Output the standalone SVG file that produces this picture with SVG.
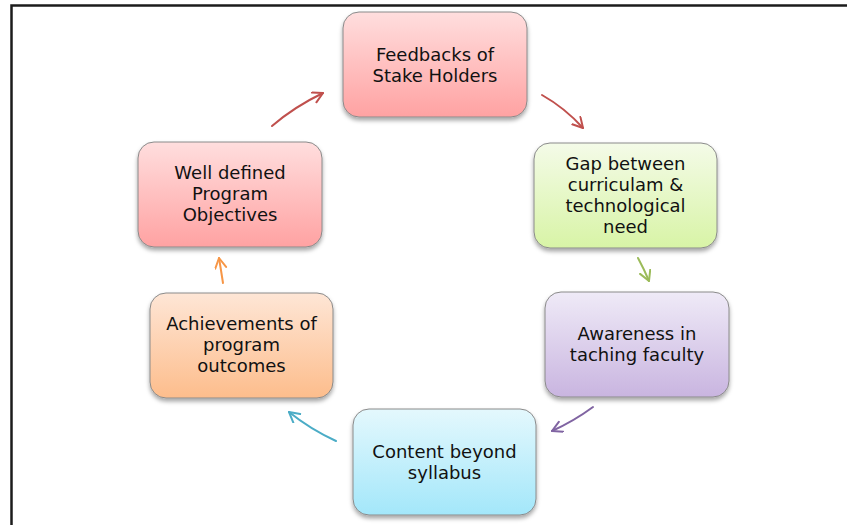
<svg xmlns="http://www.w3.org/2000/svg" width="847" height="525" viewBox="0 0 847 525">
<style>
.box{stroke:#8a8a8a;stroke-width:1;filter:url(#sh)}
.t{font-family:"DejaVu Sans",Verdana,sans-serif;font-size:18px;fill:#111;text-anchor:middle}
.c{fill:none;stroke-width:2;stroke-linecap:round}
</style>
<defs>
<filter id="sh" x="-10%" y="-10%" width="120%" height="130%">
<feDropShadow dx="0" dy="3" stdDeviation="2" flood-color="#000" flood-opacity="0.35"/>
</filter>
<linearGradient id="gr" x1="0" y1="0" x2="0" y2="1"><stop offset="0" stop-color="#ffdede"/><stop offset="1" stop-color="#ffa2a2"/></linearGradient>
<linearGradient id="gg" x1="0" y1="0" x2="0" y2="1"><stop offset="0" stop-color="#f4fbe8"/><stop offset="1" stop-color="#d8f4a6"/></linearGradient>
<linearGradient id="gp" x1="0" y1="0" x2="0" y2="1"><stop offset="0" stop-color="#efeaf7"/><stop offset="1" stop-color="#c9b5e0"/></linearGradient>
<linearGradient id="gb" x1="0" y1="0" x2="0" y2="1"><stop offset="0" stop-color="#e4f8fd"/><stop offset="1" stop-color="#a3e7fa"/></linearGradient>
<linearGradient id="go" x1="0" y1="0" x2="0" y2="1"><stop offset="0" stop-color="#fee6d6"/><stop offset="1" stop-color="#fdbd8c"/></linearGradient>
<marker id="mr" markerUnits="userSpaceOnUse" markerWidth="14" markerHeight="14" refX="11" refY="6" orient="auto"><path d="M1,0.5 L11,6 L1,11.5" fill="none" stroke="#c0504d" stroke-width="2" stroke-linecap="round" stroke-linejoin="round"/></marker>
<marker id="mg" markerUnits="userSpaceOnUse" markerWidth="14" markerHeight="14" refX="11" refY="6" orient="auto"><path d="M1,0.5 L11,6 L1,11.5" fill="none" stroke="#9bbb59" stroke-width="2" stroke-linecap="round" stroke-linejoin="round"/></marker>
<marker id="mp" markerUnits="userSpaceOnUse" markerWidth="14" markerHeight="14" refX="11" refY="6" orient="auto"><path d="M1,0.5 L11,6 L1,11.5" fill="none" stroke="#8064a2" stroke-width="2" stroke-linecap="round" stroke-linejoin="round"/></marker>
<marker id="mb" markerUnits="userSpaceOnUse" markerWidth="14" markerHeight="14" refX="11" refY="6" orient="auto"><path d="M1,0.5 L11,6 L1,11.5" fill="none" stroke="#4bacc6" stroke-width="2" stroke-linecap="round" stroke-linejoin="round"/></marker>
<marker id="mo" markerUnits="userSpaceOnUse" markerWidth="14" markerHeight="14" refX="11" refY="6" orient="auto"><path d="M1,0.5 L11,6 L1,11.5" fill="none" stroke="#f79646" stroke-width="2" stroke-linecap="round" stroke-linejoin="round"/></marker>
</defs>
<rect width="847" height="525" fill="#fff"/>
<path d="M11.5,525 L11.5,5.5 L847,5.5" fill="none" stroke="#1c1c1c" stroke-width="2.5"/>
<g id="connectors">
<path class="c" stroke="#c0504d" marker-end="url(#mr)" d="M272,126 Q294,107 323,93"/>
<path class="c" stroke="#c0504d" marker-end="url(#mr)" d="M542,95 Q565,108 583,128"/>
<path class="c" stroke="#9bbb59" marker-end="url(#mg)" d="M638,258 Q644,269 649,281"/>
<path class="c" stroke="#8064a2" marker-end="url(#mp)" d="M593,407 Q574,421 552,431"/>
<path class="c" stroke="#4bacc6" marker-end="url(#mb)" d="M336,441 Q310,429 289,412"/>
<path class="c" stroke="#f79646" marker-end="url(#mo)" d="M223,283 Q221,270 219,258"/>
</g>
<g id="feedbacks">
<rect class="box" x="343" y="12" width="184" height="105" rx="16" fill="url(#gr)"/>
<text class="t" x="435" y="61">Feedbacks of</text>
<text class="t" x="435" y="82">Stake Holders</text>
</g>
<g id="gap">
<rect class="box" x="534" y="143" width="183" height="105" rx="16" fill="url(#gg)"/>
<text class="t" x="625.5" y="170">Gap between</text>
<text class="t" x="625.5" y="191">curriculam &amp;</text>
<text class="t" x="625.5" y="212">technological</text>
<text class="t" x="625.5" y="233">need</text>
</g>
<g id="awareness">
<rect class="box" x="545" y="292" width="184" height="105" rx="16" fill="url(#gp)"/>
<text class="t" x="637" y="340">Awareness in</text>
<text class="t" x="637" y="361">taching faculty</text>
</g>
<g id="content">
<rect class="box" x="353" y="409" width="183" height="106" rx="16" fill="url(#gb)"/>
<text class="t" x="444.5" y="458">Content beyond</text>
<text class="t" x="444.5" y="479">syllabus</text>
</g>
<g id="achievements">
<rect class="box" x="150" y="293" width="183" height="105" rx="16" fill="url(#go)"/>
<text class="t" x="241.5" y="330">Achievements of</text>
<text class="t" x="241.5" y="351">program</text>
<text class="t" x="241.5" y="372">outcomes</text>
</g>
<g id="objectives">
<rect class="box" x="138" y="142" width="184" height="105" rx="16" fill="url(#gr)"/>
<text class="t" x="230" y="179">Well defined</text>
<text class="t" x="230" y="200">Program</text>
<text class="t" x="230" y="221">Objectives</text>
</g>
</svg>
